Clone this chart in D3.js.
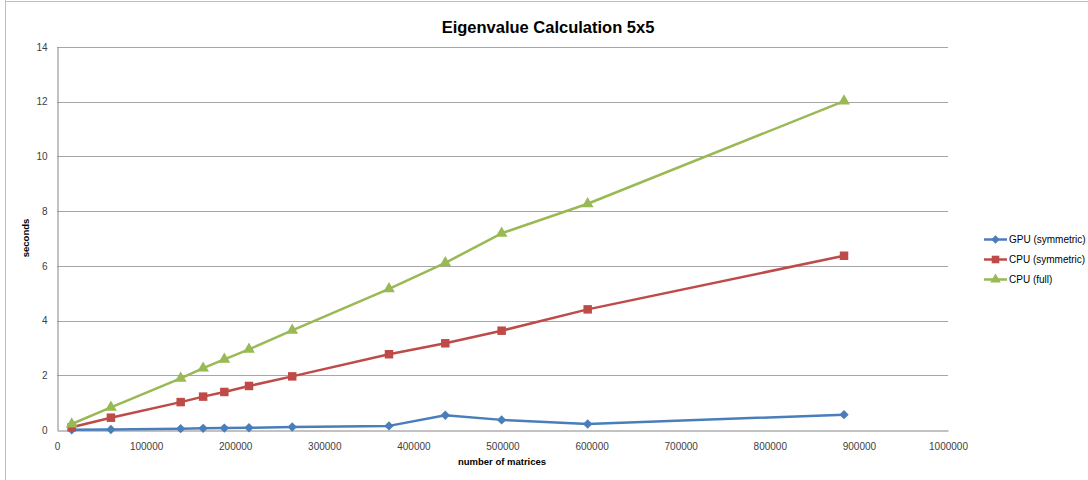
<!DOCTYPE html>
<html>
<head>
<meta charset="utf-8">
<script src="https://cdn.jsdelivr.net/npm/d3@7"></script>
<style>
  html, body { margin: 0; padding: 0; background: #fff; }
  svg { display: block; }
  text { font-family: "Liberation Sans", Arial, sans-serif; }
</style>
</head>
<body>
<svg id="chart" width="1088" height="480"></svg>
<script>
// Number of 5x5 matrices processed per run
const matrices = [16500, 60500, 138800, 164000, 187800, 215500, 264000, 372600, 435800, 499000, 595600, 883300];

// Run time in seconds for each solver
const gpuSymmetric = [0.01, 0.02, 0.05, 0.06, 0.07, 0.08, 0.11, 0.15, 0.54, 0.37, 0.22, 0.56];
const cpuSymmetric = [0.10, 0.45, 1.02, 1.22, 1.39, 1.61, 1.96, 2.77, 3.17, 3.63, 4.41, 6.37];
const cpuFull      = [0.22, 0.83, 1.89, 2.26, 2.58, 2.95, 3.64, 5.16, 6.11, 7.19, 8.27, 12.02];

const seriesNames = ["GPU (symmetric)", "CPU (symmetric)", "CPU (full)"];
const xTicks = [0, 100000, 200000, 300000, 400000, 500000, 600000, 700000, 800000, 900000, 1000000];
const yTicks = [0, 2, 4, 6, 8, 10, 12, 14];

const colors = ["#4A7EBB", "#BE4B48", "#98B954"];
// Diamond = square turned 45 degrees
const symbols = [d3.symbolSquare, d3.symbolSquare, d3.symbolTriangle];
const symbolRot = [45, 0, 0];
const symbolSizes = [44, 72, 60];

const svg = d3.select("#chart");
const W = 1088, H = 480;

// Chart frame
svg.append("line").attr("x1", 5.5).attr("x2", 5.5).attr("y1", 0).attr("y2", H)
  .attr("stroke", "#BFBFBF").attr("stroke-width", 1);
svg.append("line").attr("x1", 5).attr("x2", W).attr("y1", 1.5).attr("y2", 1.5)
  .attr("stroke", "#BFBFBF").attr("stroke-width", 1);

const plot = { left: 57, right: 948, top: 47, bottom: 430 };
const x = d3.scaleLinear().domain([0, 1000000]).range([plot.left, plot.right]);
const y = d3.scaleLinear().domain([0, 14]).range([plot.bottom, plot.top]);

// Horizontal gridlines
svg.append("g").selectAll("line").data(yTicks.filter(t => t > 0)).join("line")
  .attr("x1", plot.left).attr("x2", plot.right)
  .attr("y1", d => Math.round(y(d)) + 0.5).attr("y2", d => Math.round(y(d)) + 0.5)
  .attr("stroke", "#A6A6A6").attr("stroke-width", 1);

// Axes
const yAxis = d3.axisLeft(y).tickValues(yTicks).tickSize(0).tickPadding(10).tickFormat(d3.format("d"));
const gy = svg.append("g").attr("transform", `translate(${plot.left + 0.5},0)`).call(yAxis);
gy.select(".domain").attr("stroke", "#868686");
gy.selectAll("text").attr("font-size", "10px").attr("fill", "#404040")
  .attr("font-family", "'Liberation Sans', Arial, sans-serif");

const xAxis = d3.axisBottom(x).tickValues(xTicks).tickSize(0).tickPadding(12).tickFormat(d3.format("d"));
const gx = svg.append("g").attr("transform", `translate(0,${plot.bottom + 0.5})`).call(xAxis);
gx.select(".domain").attr("stroke", "#868686");
gx.selectAll("text").attr("font-size", "10px").attr("fill", "#404040")
  .attr("font-family", "'Liberation Sans', Arial, sans-serif");

// Titles
svg.append("text").attr("x", 548).attr("y", 33).attr("text-anchor", "middle")
  .attr("font-size", "16.5px").attr("font-weight", "bold").attr("fill", "#000")
  .text("Eigenvalue Calculation 5x5");
svg.append("text").attr("x", 502).attr("y", 465).attr("text-anchor", "middle")
  .attr("font-size", "9.5px").attr("font-weight", "bold").attr("fill", "#000")
  .text("number of matrices");
svg.append("text").attr("transform", "translate(29,238) rotate(-90)").attr("text-anchor", "middle")
  .attr("font-size", "9.5px").attr("font-weight", "bold").attr("fill", "#000")
  .text("seconds");

// Series lines and markers
const allSeries = [gpuSymmetric, cpuSymmetric, cpuFull];
const line = d3.line().x(d => x(d[0])).y(d => y(d[1]));

allSeries.forEach((vals, i) => {
  const pts = matrices.map((m, j) => [m, vals[j]]);
  svg.append("path").datum(pts).attr("d", line)
    .attr("fill", "none").attr("stroke", colors[i]).attr("stroke-width", 2.5)
    .attr("stroke-linejoin", "round");
  svg.append("g").selectAll("path").data(pts).join("path")
    .attr("transform", d => `translate(${x(d[0])},${y(d[1])}) rotate(${symbolRot[i]})`)
    .attr("d", d3.symbol().type(symbols[i]).size(symbolSizes[i]))
    .attr("fill", colors[i]);
});

// Legend
const legendY = [239.5, 259.5, 279.5];
const legend = svg.append("g");
seriesNames.forEach((name, i) => {
  const g = legend.append("g").attr("transform", `translate(0,${legendY[i]})`);
  g.append("line").attr("x1", 984).attr("x2", 1007).attr("y1", 0).attr("y2", 0)
    .attr("stroke", colors[i]).attr("stroke-width", 2.5);
  g.append("path").attr("transform", `translate(995.5,0) rotate(${symbolRot[i]})`)
    .attr("d", d3.symbol().type(symbols[i]).size(symbolSizes[i] * 0.8))
    .attr("fill", colors[i]);
  g.append("text").attr("x", 1009).attr("y", 3.5).attr("font-size", "10px").attr("fill", "#000")
    .text(name);
});
</script>
</body>
</html>
